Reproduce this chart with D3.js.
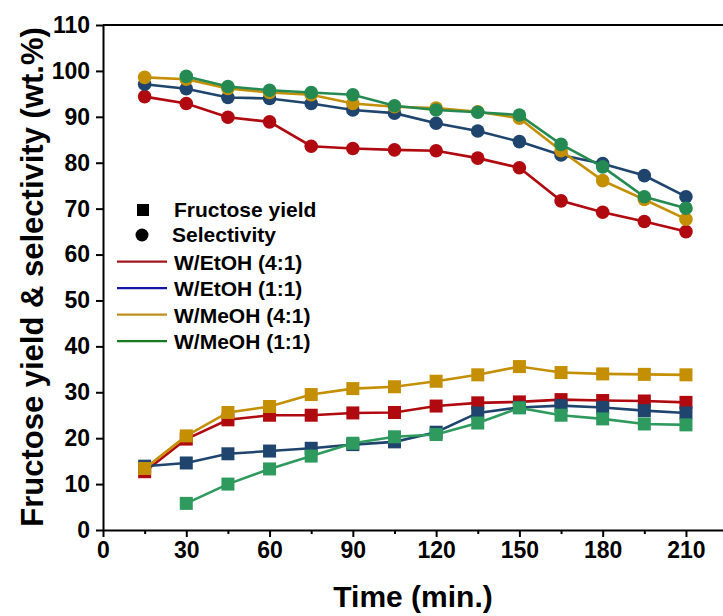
<!DOCTYPE html>
<html>
<head>
<meta charset="utf-8">
<script src="https://cdn.jsdelivr.net/npm/d3@7"></script>
<style>
  body { margin: 0; background: #fff; }
  svg { display: block; font-family: "Liberation Sans", Arial, sans-serif; font-weight: bold; }
</style>
</head>
<body>
<svg id="chart" width="723" height="616"></svg>
<script>
// data
var time = [15, 30, 45, 60, 75, 90, 105, 120, 135, 150, 165, 180, 195, 210];
var seriesNames = ["W/EtOH (4:1)", "W/EtOH (1:1)", "W/MeOH (4:1)", "W/MeOH (1:1)"];

var yieldEtOH41 = [12.7, 19.8, 24.0, 25.0, 25.0, 25.5, 25.6, 27.0, 27.7, 27.9, 28.4, 28.2, 28.1, 27.8];
var yieldEtOH11 = [13.9, 14.6, 16.6, 17.2, 17.8, 18.6, 19.2, 21.3, 25.5, 26.7, 27.1, 26.7, 26.0, 25.5];
var yieldMeOH41 = [13.4, 20.5, 25.6, 26.9, 29.5, 30.8, 31.2, 32.4, 33.8, 35.6, 34.3, 34.0, 33.9, 33.8];
var yieldMeOH11 = [null, 5.8, 10.0, 13.3, 16.1, 18.9, 20.3, 20.8, 23.3, 26.6, 25.0, 24.2, 23.1, 22.9];

var selEtOH41 = [94.4, 92.9, 89.9, 88.9, 83.6, 83.1, 82.8, 82.6, 81.0, 78.9, 71.7, 69.2, 67.2, 65.0];
var selEtOH11 = [97.1, 96.1, 94.2, 94.0, 92.9, 91.5, 90.8, 88.6, 86.9, 84.6, 81.7, 79.8, 77.2, 72.6];
var selMeOH41 = [98.6, 98.2, 96.2, 95.3, 94.8, 92.9, 92.2, 91.9, 91.1, 89.7, 82.6, 76.1, 72.0, 67.7];
var selMeOH11 = [null, 98.8, 96.6, 95.8, 95.3, 94.8, 92.4, 91.5, 91.0, 90.4, 84.0, 79.1, 72.6, 70.1];

var xMajor = [0, 30, 60, 90, 120, 150, 180, 210];
var xMinor = [15, 45, 75, 105, 135, 165, 195];
var yTicks = [0, 10, 20, 30, 40, 50, 60, 70, 80, 90, 100, 110];

// colours: marker/line colour, legend line colour
var markColors = ["#b0090f", "#1f456e", "#c48f02", "#248a52"];
var yieldGreen = "#2e9a5e";
var legendColors = ["#a3171c", "#1616a6", "#c0901e", "#177a1f"];

var yields = [yieldEtOH41, yieldEtOH11, yieldMeOH41, yieldMeOH11];
var sels = [selEtOH41, selEtOH11, selMeOH41, selMeOH11];

var svg = d3.select("#chart");

var x = d3.scaleLinear().domain([0, 225]).range([103, 727.6]);
var y = d3.scaleLinear().domain([0, 110]).range([530, 25]);

// top frame line
svg.append("line")
    .attr("x1", x(0)).attr("x2", 723)
    .attr("y1", y(110)).attr("y2", y(110))
    .attr("stroke", "#000").attr("stroke-width", 2);

// x axis
var gx = svg.append("g").attr("transform", "translate(0," + y(0) + ")");
gx.call(d3.axisBottom(x).tickValues(xMajor).tickSize(7).tickSizeOuter(0).tickPadding(5));
gx.append("g").call(d3.axisBottom(x).tickValues(xMinor).tickSize(4).tickSizeOuter(0).tickFormat(""))
    .select(".domain").remove();
gx.selectAll("path, line").attr("stroke", "#000").attr("stroke-width", 2);
gx.selectAll("text").attr("fill", "#000").style("font-size", "23px").style("font-weight", "bold")
    .style("font-family", "'Liberation Sans', Arial, sans-serif");

// y axis
var gy = svg.append("g").attr("transform", "translate(" + x(0) + ",0)");
gy.call(d3.axisLeft(y).tickValues(yTicks).tickSize(7).tickSizeOuter(0).tickPadding(6));
gy.selectAll("path, line").attr("stroke", "#000").attr("stroke-width", 2);
gy.selectAll("text").attr("fill", "#000").style("font-size", "23px").style("font-weight", "bold")
    .style("font-family", "'Liberation Sans', Arial, sans-serif");

// axis titles
svg.append("text")
    .attr("x", 413).attr("y", 607)
    .attr("text-anchor", "middle")
    .style("font-size", "30px")
    .text("Time (min.)");

svg.append("text")
    .attr("transform", "translate(43," + 277 + ") rotate(-90)")
    .attr("text-anchor", "middle")
    .style("font-size", "31px")
    .text("Fructose yield & selectivity (wt.%)");

var line = d3.line()
    .defined(function(d) { return d.v != null; })
    .x(function(d) { return x(d.t); })
    .y(function(d) { return y(d.v); });

function pts(arr) {
    return time.map(function(t, i) { return { t: t, v: arr[i] }; });
}

// selectivity (circles)
sels.forEach(function(arr, k) {
    var data = pts(arr);
    var c = markColors[k];
    svg.append("path").datum(data)
        .attr("d", line).attr("fill", "none")
        .attr("stroke", c).attr("stroke-width", 2.6);
    svg.append("g").selectAll("circle")
        .data(data.filter(function(d) { return d.v != null; }))
        .join("circle")
        .attr("cx", function(d) { return x(d.t); })
        .attr("cy", function(d) { return y(d.v); })
        .attr("r", 6.8)
        .attr("fill", c);
});

// fructose yield (squares)
var sq = 13;
yields.forEach(function(arr, k) {
    var data = pts(arr);
    var c = k == 3 ? yieldGreen : markColors[k];
    svg.append("path").datum(data)
        .attr("d", line).attr("fill", "none")
        .attr("stroke", c).attr("stroke-width", 2.6);
    svg.append("g").selectAll("rect")
        .data(data.filter(function(d) { return d.v != null; }))
        .join("rect")
        .attr("x", function(d) { return x(d.t) - sq / 2; })
        .attr("y", function(d) { return y(d.v) - sq / 2; })
        .attr("width", sq).attr("height", sq)
        .attr("fill", c);
});

// legend
var lg = svg.append("g").style("font-size", "21px");
lg.append("rect").attr("x", 137).attr("y", 204).attr("width", 12).attr("height", 12).attr("fill", "#000");
lg.append("text").attr("x", 174).attr("y", 217).text("Fructose yield");
lg.append("circle").attr("cx", 142).attr("cy", 235).attr("r", 6.5).attr("fill", "#000");
lg.append("text").attr("x", 172).attr("y", 242).text("Selectivity");

seriesNames.forEach(function(name, k) {
    var ly = 261.7 + k * 26.5;
    lg.append("line")
        .attr("x1", 117).attr("x2", 167)
        .attr("y1", ly).attr("y2", ly)
        .attr("stroke", legendColors[k]).attr("stroke-width", 2.2);
    lg.append("text").attr("x", 174).attr("y", ly + 8).text(name);
});
</script>
</body>
</html>
